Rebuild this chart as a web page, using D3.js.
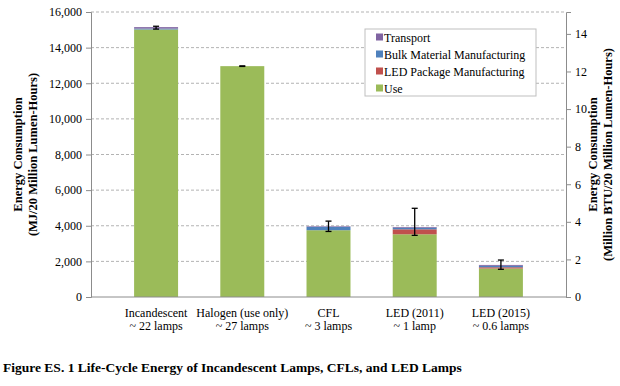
<html>
<head>
<meta charset="utf-8">
<script src="https://cdn.jsdelivr.net/npm/d3@7/dist/d3.min.js"></script>
<style>
body { margin:0; background:#fff; }
text { font-family: "Liberation Serif", "Times New Roman", serif; fill:#000; }
</style>
</head>
<body>
<div id="chart"></div>
<script>

// data
var categories = ["Incandescent", "Halogen (use only)", "CFL", "LED (2011)", "LED (2015)"]
var subLabels = ["~ 22 lamps", "~ 27 lamps", "~ 3 lamps", "~ 1 lamp", "~ 0.6 lamps"]
var useVals = [15020, 12960, 3750, 3520, 1600]
var ledPkgVals = [0, 0, 0, 280, 70]
var bulkVals = [50, 0, 190, 90, 80]
var transportVals = [80, 0, 30, 40, 50]
var errPlus = [50, 15, 290, 1050, 275]
var errMinus = [110, 15, 290, 470, 245]
var leftTicks = [0, 2000, 4000, 6000, 8000, 10000, 12000, 14000, 16000]
var rightTicks = [0, 2, 4, 6, 8, 10, 12, 14]
var MJ_TO_MBTU = 0.00094782

var keys = ["Use", "LED Package Manufacturing", "Bulk Material Manufacturing", "Transport"]
var colors = {"Use":"#9bbb59", "LED Package Manufacturing":"#c0504d", "Bulk Material Manufacturing":"#4f81bd", "Transport":"#8064a2"}

var table = categories.map(function(c, i){
	return {cat:c, "Use":useVals[i], "LED Package Manufacturing":ledPkgVals[i],
		"Bulk Material Manufacturing":bulkVals[i], "Transport":transportVals[i]}
})

var W = 620, H = 386
var pLeft = 91, pRight = 566, pTop = 12, pBottom = 297

var svg = d3.select("#chart").append("svg").attr("width", W).attr("height", H)

var x = d3.scaleBand().domain(categories).range([pLeft, pRight]).paddingInner(0.49).paddingOuter(0.5)
var y = d3.scaleLinear().domain([0, 16000]).range([pBottom, pTop])
var y2 = d3.scaleLinear().domain([0, 16000 * MJ_TO_MBTU]).range([pBottom, pTop])

// gridlines
svg.append("g").selectAll("line").data(leftTicks.filter(function(d){return d > 0})).enter().append("line")
	.attr("x1", pLeft).attr("x2", pRight)
	.attr("y1", function(d){return y(d)}).attr("y2", function(d){return y(d)})
	.attr("stroke", "#b3b3b3").attr("stroke-dasharray", "3,2").attr("stroke-width", 1)

// stacked bars
var stacked = d3.stack().keys(keys)(table)
svg.append("g").selectAll("g").data(stacked).enter().append("g")
	.attr("fill", function(d){return colors[d.key]})
	.selectAll("rect").data(function(d){return d}).enter().append("rect")
	.attr("x", function(d){return x(d.data.cat)})
	.attr("width", x.bandwidth())
	.attr("y", function(d){return y(d[1])})
	.attr("height", function(d){return y(d[0]) - y(d[1])})

// error bars
var err = svg.append("g").attr("stroke", "#000").attr("stroke-width", 1.3)
categories.forEach(function(c, i){
	var tot = useVals[i] + ledPkgVals[i] + bulkVals[i] + transportVals[i]
	var cx = x(c) + x.bandwidth() / 2
	var y1 = y(tot + errPlus[i]), y0 = y(tot - errMinus[i])
	err.append("line").attr("x1", cx).attr("x2", cx).attr("y1", y1).attr("y2", y0)
	err.append("line").attr("x1", cx - 3).attr("x2", cx + 3).attr("y1", y1).attr("y2", y1)
	err.append("line").attr("x1", cx - 3).attr("x2", cx + 3).attr("y1", y0).attr("y2", y0)
})

// axes
var fmt = d3.format(",")
var la = svg.append("g").attr("transform", "translate(" + pLeft + ",0)")
	.call(d3.axisLeft(y).tickValues(leftTicks).tickFormat(fmt).tickSize(5).tickPadding(4))
var ra = svg.append("g").attr("transform", "translate(" + pRight + ",0)")
	.call(d3.axisRight(y2).tickValues(rightTicks).tickSize(5).tickPadding(4))
;[la, ra].forEach(function(a){
	a.select(".domain").attr("stroke", "#8c8c8c")
	a.selectAll(".tick line").attr("stroke", "#8c8c8c")
	a.selectAll("text").style("font-family", "Liberation Serif").style("font-size", "12px").attr("fill", "#000")
})
svg.append("line").attr("x1", pLeft).attr("x2", pRight).attr("y1", pBottom).attr("y2", pBottom)
	.attr("stroke", "#8c8c8c")

// category labels
var xl = svg.append("g").selectAll("g").data(categories).enter().append("g")
	.attr("transform", function(d){return "translate(" + (x(d) + x.bandwidth() / 2) + ",0)"})
xl.append("text").attr("y", 317).attr("text-anchor", "middle").style("font-size", "12px").text(function(d){return d})
xl.append("text").attr("y", 330).attr("text-anchor", "middle").style("font-size", "12px").text(function(d, i){return subLabels[i]})

// axis titles
var mid = (pTop + pBottom) / 2
svg.append("text").attr("transform", "translate(22," + mid + ") rotate(-90)").attr("text-anchor", "middle")
	.style("font-size", "12.5px").style("font-weight", "bold").text("Energy Consumption")
svg.append("text").attr("transform", "translate(37," + mid + ") rotate(-90)").attr("text-anchor", "middle")
	.style("font-size", "12.5px").style("font-weight", "bold").text("(MJ/20 Million Lumen-Hours)")
svg.append("text").attr("transform", "translate(597," + mid + ") rotate(-90)").attr("text-anchor", "middle")
	.style("font-size", "12.5px").style("font-weight", "bold").text("Energy Consumption")
svg.append("text").attr("transform", "translate(612," + mid + ") rotate(-90)").attr("text-anchor", "middle")
	.style("font-size", "12.5px").style("font-weight", "bold").text("(Million BTU/20 Million Lumen-Hours)")

// legend
var lg = svg.append("g").attr("transform", "translate(365,29)")
lg.append("rect").attr("width", 171).attr("height", 67).attr("fill", "#fff").attr("stroke", "#bfbfbf")
var legendKeys = keys.slice().reverse()
var li = lg.selectAll("g.item").data(legendKeys).enter().append("g").attr("class", "item")
	.attr("transform", function(d, i){return "translate(11," + (8 + i * 17) + ")"})
li.append("rect").attr("width", 7).attr("height", 7).attr("y", -3.5).attr("fill", function(d){return colors[d]})
li.append("text").attr("x", 8).attr("y", 4.5).style("font-size", "12px").text(function(d){return d})

// caption
svg.append("text").attr("x", 3).attr("y", 372).style("font-size", "13.5px").style("font-weight", "bold")
	.text("Figure ES. 1 Life-Cycle Energy of Incandescent Lamps, CFLs, and LED Lamps")

</script>
</body>
</html>
